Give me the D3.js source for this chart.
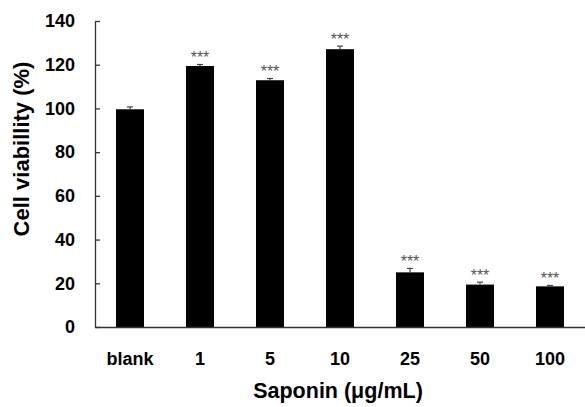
<!DOCTYPE html>
<html>
<head>
<meta charset="utf-8">
<script src="https://cdn.jsdelivr.net/npm/d3@7"></script>
<style>
  body { margin: 0; background: #fff; }
  svg { display: block; font-family: Arial, "Liberation Sans", sans-serif; }
</style>
</head>
<body>
<svg id="chart" width="585" height="407"></svg>
<script>
// Data
var categories = ["blank", "1", "5", "10", "25", "50", "100"];
var viability = [99.6, 119.4, 112.9, 127.1, 25.0, 19.4, 18.6];
var errors = [1.1, 0.7, 0.8, 1.4, 1.8, 1.1, 0.4];
var marks = ["", "***", "***", "***", "***", "***", "***"];
var yTicks = [0, 20, 40, 60, 80, 100, 120, 140];

var svg = d3.select("#chart");

// Plot area edges
var plotLeft = 95, plotRight = 585, plotTop = 21, plotBottom = 327;

var x = d3.scaleBand()
    .domain(categories)
    .range([plotLeft, plotRight])
    .paddingInner(0.6)
    .paddingOuter(0.3);

var y = d3.scaleLinear()
    .domain([0, 140])
    .range([plotBottom, plotTop]);

// Bars
svg.selectAll("rect.bar")
    .data(categories)
    .enter().append("rect")
    .attr("class", "bar")
    .attr("x", function(d) { return x(d); })
    .attr("width", x.bandwidth())
    .attr("y", function(d, i) { return y(viability[i]); })
    .attr("height", function(d, i) { return plotBottom - y(viability[i]); })
    .attr("fill", "#000");

// Error bars, upward only
var err = svg.append("g").attr("stroke", "#444").attr("stroke-width", 1.2);
categories.forEach(function(c, i) {
    var cx = x(c) + x.bandwidth() / 2;
    var yTop = y(viability[i] + errors[i]);
    err.append("line")
        .attr("x1", cx).attr("x2", cx)
        .attr("y1", y(viability[i])).attr("y2", yTop);
    err.append("line")
        .attr("x1", cx - 3).attr("x2", cx + 3)
        .attr("y1", yTop).attr("y2", yTop);
});

// Significance stars
svg.selectAll("text.mark")
    .data(categories)
    .enter().append("text")
    .attr("class", "mark")
    .attr("x", function(d) { return x(d) + x.bandwidth() / 2; })
    .attr("y", function(d, i) { return y(viability[i] + errors[i]) - 1.5; })
    .attr("text-anchor", "middle")
    .attr("font-size", 16)
    .attr("fill", "#555")
    .text(function(d, i) { return marks[i]; });

// Y axis (ticks point inward)
var yAxis = svg.append("g")
    .attr("transform", "translate(" + plotLeft + ",0)")
    .call(d3.axisLeft(y).tickValues(yTicks).tickSizeInner(-5).tickSizeOuter(0).tickPadding(20));
yAxis.select(".domain").attr("stroke", "#333").attr("stroke-width", 1.3);
yAxis.selectAll(".tick line").attr("stroke", "#333").attr("stroke-width", 1.3);
yAxis.selectAll("text")
    .attr("font-size", 18)
    .attr("font-weight", "bold")
    .attr("fill", "#000")
    .attr("font-family", "Arial, 'Liberation Sans', sans-serif");

// X axis
var xAxis = svg.append("g")
    .attr("transform", "translate(0," + plotBottom + ")")
    .call(d3.axisBottom(x).tickSize(0).tickPadding(25));
xAxis.select(".domain").attr("stroke", "#333").attr("stroke-width", 1.3);
xAxis.selectAll("text")
    .attr("font-size", 18)
    .attr("font-weight", "bold")
    .attr("fill", "#000")
    .attr("font-family", "Arial, 'Liberation Sans', sans-serif");

// Axis titles
svg.append("text")
    .attr("x", 338)
    .attr("y", 398)
    .attr("text-anchor", "middle")
    .attr("font-size", 21.5)
    .attr("font-weight", "bold")
    .text("Saponin (\u03bcg/mL)");

svg.append("text")
    .attr("transform", "translate(29,149) rotate(-90)")
    .attr("text-anchor", "middle")
    .attr("font-size", 22)
    .attr("font-weight", "bold")
    .text("Cell viabillity (%)");
</script>
</body>
</html>
